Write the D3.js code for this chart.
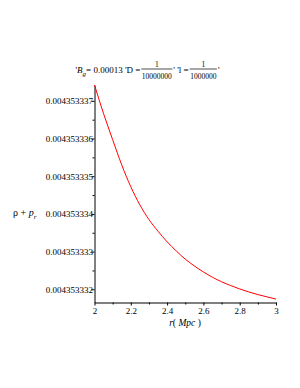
<!DOCTYPE html>
<html>
<head>
<meta charset="utf-8">
<title>rho + p_r</title>
<script src="https://cdnjs.cloudflare.com/ajax/libs/d3/7.8.5/d3.min.js"></script>
<style>
  body { margin: 0; background: #fff; }
  svg text { font-family: "Liberation Serif", "Times New Roman", serif; fill: #000; }
</style>
</head>
<body>
<div id="chart"></div>
<script>
// r (Mpc) and rho + p_r
var rVals = [2.00, 2.05, 2.10, 2.15, 2.20, 2.25, 2.30, 2.35, 2.40, 2.45, 2.50,
             2.55, 2.60, 2.65, 2.70, 2.75, 2.80, 2.85, 2.90, 2.95, 3.00];
var rhoPr = [0.00435333742, 0.00435333666, 0.00435333597, 0.00435333530, 0.00435333472,
             0.00435333424, 0.00435333385, 0.00435333354, 0.00435333326, 0.00435333302,
             0.00435333280, 0.00435333262, 0.00435333246, 0.00435333232, 0.00435333220,
             0.00435333210, 0.00435333201, 0.00435333193, 0.00435333186, 0.00435333180,
             0.00435333174];
var yTicks = [0.004353332, 0.004353333, 0.004353334, 0.004353335, 0.004353336, 0.004353337];
var yMinor = [0.0043533325, 0.0043533335, 0.0043533345, 0.0043533355, 0.0043533365];
var xTicks = [2, 2.2, 2.4, 2.6, 2.8, 3];
var xMinor = [2.1, 2.3, 2.5, 2.7, 2.9];
var yDomain = [0.00435333165, 0.00435333742];

var W = 300, H = 388;
var svg = d3.select("#chart").append("svg")
  .attr("width", W).attr("height", H);

var x = d3.scaleLinear().domain([2, 3]).range([94.5, 276]);
var y = d3.scaleLinear().domain(yDomain).range([302.5, 85]);

// axes
svg.append("g").attr("transform", "translate(0,302.5)")
  .call(d3.axisBottom(x).tickValues(xTicks).tickFormat(d3.format("")).tickSize(3).tickSizeOuter(0).tickPadding(2));
svg.append("g").attr("transform", "translate(0,302.5)")
  .call(d3.axisBottom(x).tickValues(xMinor).tickFormat("").tickSize(2).tickSizeOuter(0))
  .select(".domain").remove();

svg.append("g").attr("transform", "translate(94.5,0)")
  .call(d3.axisLeft(y).tickValues(yTicks).tickFormat(function(d) { return d.toFixed(9); })
    .tickSize(3).tickSizeOuter(0).tickPadding(-1.5));
svg.append("g").attr("transform", "translate(94.5,0)")
  .call(d3.axisLeft(y).tickValues(yMinor).tickFormat("").tickSize(2).tickSizeOuter(0))
  .select(".domain").remove();

svg.selectAll(".tick text").style("font-size", "9px")
  .style("font-family", "'Liberation Serif', serif");
svg.selectAll(".domain, .tick line").attr("stroke", "#000");

// curve
var line = d3.line()
  .x(function(d, i) { return x(rVals[i]); })
  .y(function(d) { return y(d); })
  .curve(d3.curveMonotoneX);
svg.append("path").datum(rhoPr)
  .attr("d", line)
  .attr("fill", "none")
  .attr("stroke", "#ff0000")
  .attr("stroke-width", 1);

// axis labels
var xl = svg.append("text").attr("x", 185).attr("y", 326)
  .attr("text-anchor", "middle").style("font-size", "9.5px");
xl.append("tspan").style("font-style", "italic").text("r");
xl.append("tspan").text("( ");
xl.append("tspan").style("font-style", "italic").text("Mpc");
xl.append("tspan").text(" )");

var yl = svg.append("text").attr("x", 13).attr("y", 216).style("font-size", "10px");
yl.append("tspan").text("\u03c1 + ");
yl.append("tspan").style("font-style", "italic").text("p");
yl.append("tspan").attr("dy", 3).style("font-size", "7px").style("font-style", "italic").text("r");

// title: 'B_g = 0.00013 'D = 1/10000000' 'l = 1/1000000'
var tg = svg.append("g");
var cx = 0, base = 73;
function piece(str, size, italic, dy) {
  var t = tg.append("text").attr("x", cx).attr("y", base + (dy || 0))
    .style("font-size", size + "px").text(str);
  if (italic) t.style("font-style", "italic");
  cx += t.node().getComputedTextLength();
  return t;
}
function frac(num, den) {
  var n = tg.append("text").attr("y", base - 6).style("font-size", "7.5px")
    .attr("text-anchor", "middle").text(num);
  var d = tg.append("text").attr("y", base + 5.5).style("font-size", "7.5px")
    .attr("text-anchor", "middle").text(den);
  var w = Math.max(n.node().getComputedTextLength(), d.node().getComputedTextLength()) + 1;
  n.attr("x", cx + w / 2 + 1);
  d.attr("x", cx + w / 2 + 1);
  tg.append("line").attr("x1", cx + 1).attr("x2", cx + 1 + w)
    .attr("y1", base - 4).attr("y2", base - 4)
    .attr("stroke", "#000").attr("stroke-width", 0.7);
  cx += w + 2;
}
piece("'", 9);
piece("B", 9, true);
piece("g", 7, true, 3);
piece(" = 0.00013 'D = ", 9);
frac("1", "10000000");
piece("' 'l = ", 9);
frac("1", "1000000");
piece("'", 9);
tg.attr("transform", "translate(" + (147.5 - cx / 2) + ",0)");
</script>
</body>
</html>
